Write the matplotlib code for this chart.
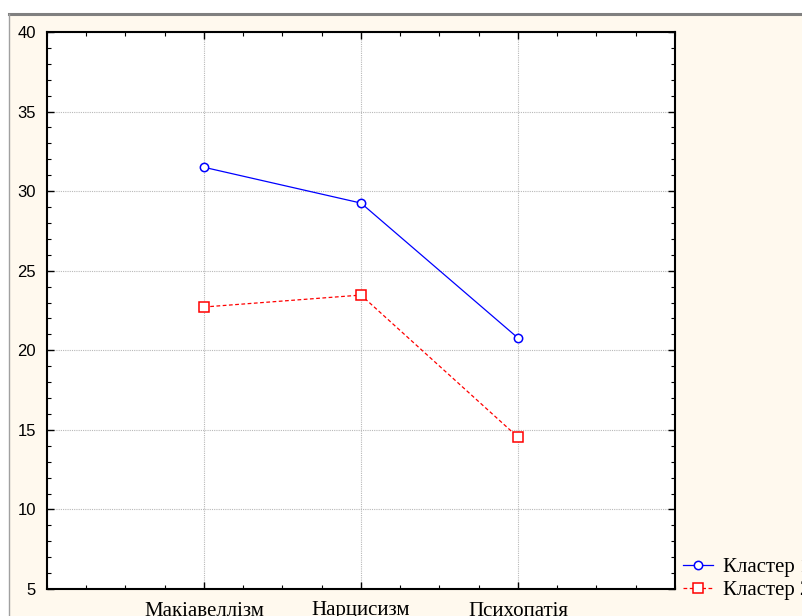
import matplotlib.pyplot as plt
import matplotlib.patches as patches
from matplotlib.ticker import MultipleLocator, FixedLocator

categories = ["Макіавеллізм", "Нарцисизм", "Психопатія"]
cluster1 = [31.5, 29.25, 20.77]
cluster2 = [22.72, 23.47, 14.54]
labels = ["Кластер 1", "Кластер 2"]

W, H = 803, 616
fig = plt.figure(figsize=(W / 100, H / 100), dpi=100, facecolor="white")

# window-like background
bg = patches.Rectangle((10 / W, 0), 1, (H - 15) / H, transform=fig.transFigure,
                       facecolor="#FFF9EE", edgecolor="none", zorder=-10)
fig.add_artist(bg)
fig.add_artist(plt.Line2D([9 / W, 1], [(H - 13.5) / H] * 2, transform=fig.transFigure,
                          color="#808080", lw=2.2, zorder=-9))
fig.add_artist(plt.Line2D([9.5 / W] * 2, [0, (H - 13.5) / H], transform=fig.transFigure,
                          color="#A0A0A0", lw=1, zorder=-9))

ax = fig.add_axes([47 / W, 1 - 589 / H, (675 - 47) / W, (589 - 32) / H])
ax.set_facecolor("white")

x = list(range(len(categories)))
ax.plot(x, cluster1, color="#0000FF", lw=0.9, marker="o", markersize=6,
        markerfacecolor="white", markeredgecolor="#0000FF", markeredgewidth=1.1, label=labels[0])
ax.plot(x, cluster2, color="#FF0000", lw=0.9, ls=(0, (3, 2)), marker="s", markersize=7,
        markerfacecolor="white", markeredgecolor="#FF0000", markeredgewidth=1.1, label=labels[1])

ax.set_xlim(-1, 3)
ax.set_ylim(5, 40)
ax.xaxis.set_major_locator(FixedLocator(x))
ax.xaxis.set_minor_locator(MultipleLocator(0.25))
ax.yaxis.set_major_locator(MultipleLocator(5))
ax.yaxis.set_minor_locator(MultipleLocator(1))
ax.set_xticklabels(categories, fontfamily="Liberation Serif", fontsize=15)
for lab in ax.get_yticklabels():
    lab.set_fontfamily("Liberation Sans")
ax.tick_params(axis="y", labelsize=12, pad=8)
ax.tick_params(axis="x", pad=9)
ax.tick_params(which="both", direction="in", top=True, right=True, color="black")
ax.tick_params(which="major", length=5, width=1)
ax.tick_params(which="minor", length=3, width=0.8)

ax.grid(True, which="major", ls=(0, (1, 1)), color="#B8B8B8", lw=0.8)
ax.set_axisbelow(True)

for s in ax.spines.values():
    s.set_linewidth(1.5)
    s.set_color("black")

fig.legend(loc="lower left", bbox_to_anchor=(683 / W, 1 - 600 / H), frameon=False,
           prop={"family": "Liberation Serif", "size": 15}, handlelength=1.45,
           handletextpad=0.45, borderpad=0, borderaxespad=0, labelspacing=0.15)

fig.savefig("out.png", dpi=100, facecolor=fig.get_facecolor())
